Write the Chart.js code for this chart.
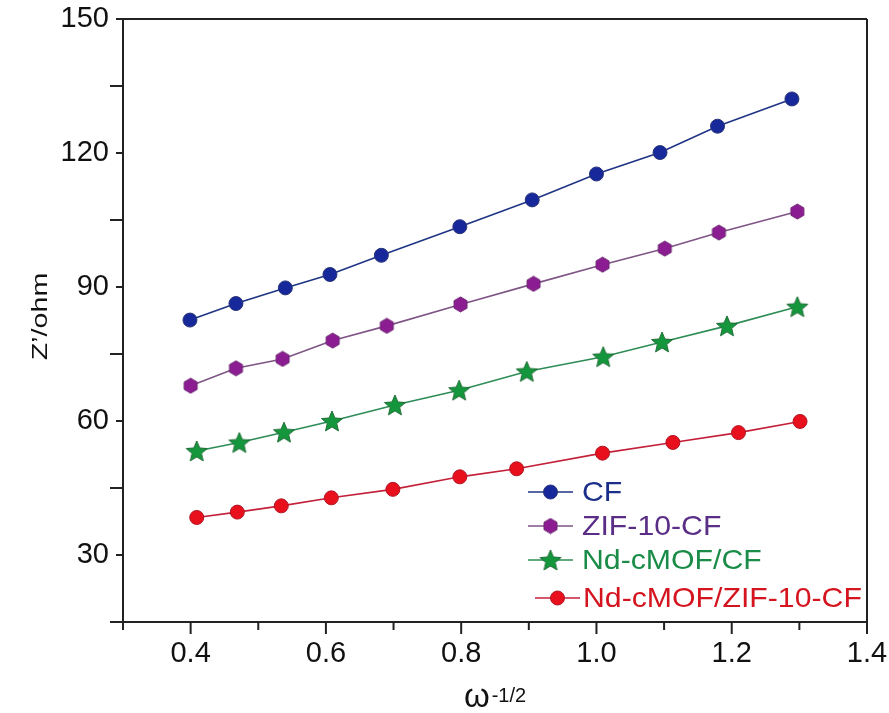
<!DOCTYPE html>
<html>
<head>
<meta charset="utf-8">
<script src="https://cdn.jsdelivr.net/npm/chart.js@4.4.1/dist/chart.umd.min.js"></script>
<style>
    html, body { margin: 0; padding: 0; background: #fff; }
    #wrap { width: 889px; height: 713px; position: relative; }
</style>
</head>
<body>
<div id="wrap"><canvas id="chart" width="889" height="713"></canvas></div>
<script>
// --- Data ---
const seriesNames = ['CF', 'ZIF-10-CF', 'Nd-cMOF/CF', 'Nd-cMOF/ZIF-10-CF'];

const cfX = [0.399, 0.467, 0.540, 0.606, 0.682, 0.798, 0.905, 1.000, 1.094, 1.179, 1.289];
const cfY = [82.6, 86.3, 89.8, 92.8, 97.1, 103.5, 109.5, 115.3, 120.1, 126.0, 132.1];

const zifX = [0.400, 0.467, 0.536, 0.610, 0.690, 0.799, 0.907, 1.009, 1.101, 1.181, 1.297];
const zifY = [67.9, 71.8, 73.9, 78.0, 81.3, 86.1, 90.7, 95.0, 98.6, 102.2, 106.9];

const ndX = [0.409, 0.472, 0.538, 0.609, 0.702, 0.797, 0.897, 1.010, 1.097, 1.193, 1.297];
const ndY = [53.3, 55.2, 57.5, 60.0, 63.6, 66.9, 71.1, 74.4, 77.7, 81.3, 85.6];

const ndZifX = [0.409, 0.469, 0.534, 0.608, 0.699, 0.798, 0.882, 1.009, 1.113, 1.210, 1.301];
const ndZifY = [38.4, 39.6, 41.0, 42.8, 44.7, 47.5, 49.3, 52.8, 55.2, 57.4, 59.9];

const xTicks = { min: 0.3, max: 1.4, step: 0.1 };
const yTicks = { min: 15, max: 150, step: 15 };

// --- Marker images ---
function makeHexagon(r, fill, stroke) {
    const c = document.createElement('canvas');
    const s = Math.ceil(r * 2 + 2);
    c.width = s; c.height = s;
    const g = c.getContext('2d');
    g.beginPath();
    for (let i = 0; i < 6; i++) {
        const a = Math.PI / 6 + i * Math.PI / 3;
        const px = s / 2 + r * Math.cos(a), py = s / 2 + r * Math.sin(a);
        i ? g.lineTo(px, py) : g.moveTo(px, py);
    }
    g.closePath();
    g.fillStyle = fill; g.fill();
    g.strokeStyle = stroke; g.lineWidth = 1; g.stroke();
    return c;
}

function makeStar(r, fill, stroke) {
    const c = document.createElement('canvas');
    const s = Math.ceil(r * 2 + 2);
    c.width = s; c.height = s;
    const g = c.getContext('2d');
    const inner = r * 0.45;
    g.beginPath();
    for (let i = 0; i < 10; i++) {
        const rr = i % 2 ? inner : r;
        const a = -Math.PI / 2 + i * Math.PI / 5;
        const px = s / 2 + rr * Math.cos(a), py = s / 2 + 1 + rr * Math.sin(a);
        i ? g.lineTo(px, py) : g.moveTo(px, py);
    }
    g.closePath();
    g.fillStyle = fill; g.fill();
    g.strokeStyle = stroke; g.lineWidth = 1; g.stroke();
    return c;
}

const hexImg = makeHexagon(7.5, '#8c1c92', '#6e2a74');
const starImg = makeStar(11, '#14973c', '#1f6b35');

const styles = [
    { line: '#1f3584', fill: '#16289a', border: '#2a3578', text: '#1b2f8a', point: 'circle' },
    { line: '#7e5585', fill: '#8c1c92', border: '#6e2a74', text: '#5a2d86', point: hexImg },
    { line: '#2e8c56', fill: '#14973c', border: '#1f6b35', text: '#1a8c48', point: starImg },
    { line: '#c4203a', fill: '#e8101c', border: '#b01424', text: '#d4141f', point: 'circle' }
];

const xs = [cfX, zifX, ndX, ndZifX];
const ys = [cfY, zifY, ndY, ndZifY];

const datasets = seriesNames.map((name, i) => ({
    label: name,
    data: xs[i].map((x, j) => ({ x: x, y: ys[i][j] })),
    borderColor: styles[i].line,
    borderWidth: 1.6,
    backgroundColor: styles[i].fill,
    pointBackgroundColor: styles[i].fill,
    pointBorderColor: styles[i].border,
    pointBorderWidth: 1,
    pointRadius: 7,
    pointStyle: styles[i].point,
    tension: 0
}));

// --- Frame, ticks, titles, legend ---
const decorations = {
    id: 'decorations',
    afterDraw(chart) {
        const ctx = chart.ctx;
        const a = chart.chartArea;
        const xs_ = chart.scales.x, ys_ = chart.scales.y;
        ctx.save();
        ctx.strokeStyle = '#222';
        ctx.lineWidth = 2;

        // top + right frame
        ctx.beginPath();
        ctx.moveTo(a.left, a.top); ctx.lineTo(a.right, a.top);
        ctx.moveTo(a.right, a.top); ctx.lineTo(a.right, a.bottom);
        ctx.stroke();

        // x ticks (outward)
        ctx.beginPath();
        xs_.ticks.forEach(t => {
            const px = xs_.getPixelForValue(t.value);
            const major = Math.round(t.value * 10) % 2 === 0;
            ctx.moveTo(px, a.bottom);
            ctx.lineTo(px, a.bottom + (major ? 12 : 8));
        });
        // y ticks (outward)
        ys_.ticks.forEach(t => {
            const py = ys_.getPixelForValue(t.value);
            const major = t.value % 30 === 0;
            ctx.moveTo(a.left, py);
            ctx.lineTo(a.left - (major ? 7 : 13), py);
        });
        ctx.stroke();

        // y title
        ctx.fillStyle = '#111';
        ctx.save();
        ctx.translate(47, (a.top + a.bottom) / 2 - 4);
        ctx.rotate(-Math.PI / 2);
        ctx.scale(1.3, 1);
        ctx.font = '22px "Liberation Sans", Arial, sans-serif';
        ctx.textAlign = 'center';
        ctx.textBaseline = 'alphabetic';
        ctx.fillText('Z\u2019/ohm', 0, 0);
        ctx.restore();

        // x title: omega with superscript
        ctx.font = '33px "Liberation Sans", Arial, sans-serif';
        const wOmega = ctx.measureText('\u03c9').width;
        ctx.font = '20px "Liberation Sans", Arial, sans-serif';
        const wSup = ctx.measureText('-1/2').width;
        const startX = (a.left + a.right) / 2 - (wOmega + 2 + wSup) / 2;
        ctx.textAlign = 'left';
        ctx.textBaseline = 'alphabetic';
        ctx.font = '33px "Liberation Sans", Arial, sans-serif';
        ctx.fillText('\u03c9', startX, 707);
        ctx.font = '20px "Liberation Sans", Arial, sans-serif';
        ctx.fillText('-1/2', startX + wOmega + 2, 702);

        // legend
        const legendRows = [
            { y: 492, x1: 528, x2: 573, tx: 582 },
            { y: 526, x1: 528, x2: 573, tx: 582 },
            { y: 560, x1: 528, x2: 573, tx: 582 },
            { y: 598, x1: 535, x2: 580, tx: 583 }
        ];
        legendRows.forEach((r, i) => {
            const st = styles[i];
            ctx.strokeStyle = st.line;
            ctx.lineWidth = 1.6;
            ctx.beginPath();
            ctx.moveTo(r.x1, r.y); ctx.lineTo(r.x2, r.y);
            ctx.stroke();
            const cx = (r.x1 + r.x2) / 2;
            if (st.point === 'circle') {
                ctx.beginPath();
                ctx.arc(cx, r.y, 7, 0, Math.PI * 2);
                ctx.fillStyle = st.fill; ctx.fill();
                ctx.strokeStyle = st.border; ctx.lineWidth = 1; ctx.stroke();
            } else {
                ctx.drawImage(st.point, cx - st.point.width / 2, r.y - st.point.height / 2);
            }
            ctx.save();
            ctx.translate(r.tx, r.y + 1);
            ctx.scale(1.08, 1);
            ctx.fillStyle = st.text;
            ctx.font = '28px "Liberation Sans", Arial, sans-serif';
            ctx.textAlign = 'left';
            ctx.textBaseline = 'middle';
            ctx.fillText(seriesNames[i], 0, 0);
            ctx.restore();
        });
        ctx.restore();
    }
};

const tickFont = { family: '"Liberation Sans", Arial, sans-serif', size: 29 };

new Chart(document.getElementById('chart').getContext('2d'), {
    type: 'line',
    data: { datasets },
    options: {
        responsive: false,
        animation: false,
        layout: { padding: { top: 19, right: 22, left: 0, bottom: 0 } },
        plugins: { legend: { display: false }, tooltip: { enabled: false } },
        scales: {
            x: {
                type: 'linear',
                min: xTicks.min, max: xTicks.max,
                afterFit: s => { s.height = 91; s.paddingLeft = 0; s.paddingRight = 0; },
                ticks: {
                    stepSize: xTicks.step,
                    autoSkip: false, maxRotation: 0,
                    color: '#111', font: tickFont, padding: 3,
                    callback: v => Math.round(v * 10) % 2 === 0 ? v.toFixed(1) : ''
                },
                grid: { drawOnChartArea: false, drawTicks: true, tickLength: 12, tickColor: 'rgba(0,0,0,0)' },
                border: { color: '#222', width: 2 }
            },
            y: {
                min: yTicks.min, max: yTicks.max,
                afterFit: s => { s.width = 123; s.paddingTop = 0; s.paddingBottom = 0; },
                ticks: {
                    stepSize: yTicks.step,
                    autoSkip: false,
                    color: '#111', font: tickFont, padding: 7,
                    callback: v => v % 30 === 0 ? String(v) : ''
                },
                grid: { drawOnChartArea: false, drawTicks: true, tickLength: 7, tickColor: 'rgba(0,0,0,0)' },
                border: { color: '#222', width: 2 }
            }
        }
    },
    plugins: [decorations]
});
</script>
</body>
</html>
